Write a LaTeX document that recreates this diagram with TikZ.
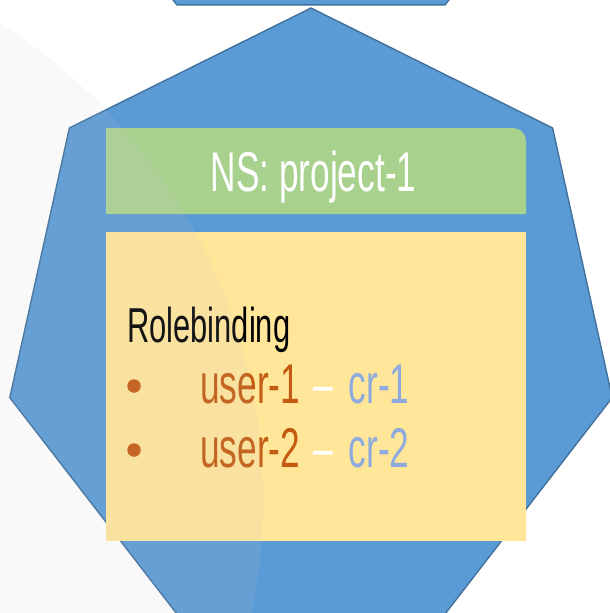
\documentclass[tikz,border=0pt]{standalone}
\usepackage{fontspec}
\setmainfont{Liberation Sans}[FakeStretch=0.63]
\definecolor{hepfill}{HTML}{5B9BD5}
\definecolor{hepline}{HTML}{41719C}
\definecolor{nsgreen}{HTML}{A9D18E}
\definecolor{noteyellow}{HTML}{FFE699}
\definecolor{userorange}{HTML}{C55A11}
\definecolor{crblue}{HTML}{8FAADC}
\definecolor{haze}{RGB}{200,200,212}
\tikzset{
  hept/.style={fill=hepfill, draw=hepline, line width=1.4pt, line join=round},
  bulletdot/.style={circle, fill=userorange, inner sep=0pt, minimum size=13.5pt},
  linetext/.style={anchor=base west, inner sep=0pt, font=\fontsize{56}{60}\selectfont},
}
\begin{document}
\begin{tikzpicture}[x=1pt, y=-1pt]
\useasboundingbox (0,0) rectangle (610,613);
\clip (0,0) rectangle (610,613);
\fill[white] (0,0) rectangle (610,613);
% upper heptagon (only its bottom edge shows)
\draw[hept] (311,-601) -- (552.6,-481) -- (612.2,-211.4) -- (445.1,4.9) -- (176.9,4.9) -- (9.8,-211.4) -- (69.4,-481) -- cycle;
% main heptagon
\draw[hept] (311,8) -- (552.6,128) -- (612.2,397.6) -- (445.1,613.9) -- (176.9,613.9) -- (9.8,397.6) -- (69.4,128) -- cycle;
% green title bar
\fill[nsgreen] (106,214) -- (106,128) -- (513,128) .. controls (520.2,128) and (526,133.8) .. (526,141) -- (526,214) -- cycle;
\node[anchor=base, inner sep=0pt, text=white, font=\fontsize{56}{60}\selectfont] (ns) at (313.5,191) {NS: project-1};
% yellow note
\fill[noteyellow] (106,232) rectangle (526,541);
\node[anchor=base west, inner sep=0pt, font=\fontsize{49}{54}\selectfont] (rb) at (127,342) {Rolebinding};
\node[bulletdot] (b1) at (134,386) {};
\node[bulletdot] (b2) at (134,450) {};
\node[linetext] (l1) at (200,403) {\textcolor{userorange}{user-1}\hspace{13pt}\textcolor{white}{–}\hspace{16pt}\textcolor{crblue}{cr-1}};
\node[linetext] (l2) at (200,467) {\textcolor{userorange}{user-2}\hspace{13pt}\textcolor{white}{–}\hspace{16pt}\textcolor{crblue}{cr-2}};
% faint background disc overlay
\fill[haze, fill opacity=0.1] (-300,500) circle[radius=563];
\end{tikzpicture}
\end{document}
